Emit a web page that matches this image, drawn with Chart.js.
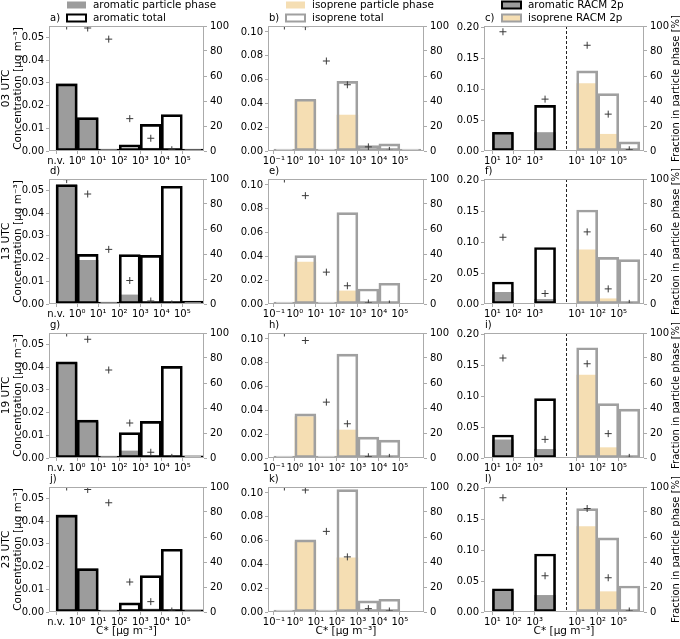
<!DOCTYPE html>
<html>
<head>
<meta charset="utf-8">
<script src="https://cdn.jsdelivr.net/npm/chart.js@4"></script>
<style>
  html, body { margin: 0; padding: 0; background: #fff; overflow: hidden; }
  #fig { position: relative; width: 680px; height: 639px; }
  #fig canvas { position: absolute; }
</style>
</head>
<body>
<div id="fig"></div>
<script>
const hours = ["03 UTC", "13 UTC", "19 UTC", "23 UTC"];
const panelTags = ["a)", "b)", "c)", "d)", "e)", "f)", "g)", "h)", "i)", "j)", "k)", "l)"];

// bin labels sit on the bar edges
const aromBins = ["n.v.", "10⁰", "10¹", "10²", "10³", "10⁴", "10⁵"];
const isoBins = ["10⁻¹", "10⁰", "10¹", "10²", "10³", "10⁴", "10⁵"];
const racmBins = ["10¹", "10²", "10³", "10¹", "10²", "10⁵"];
const racmTickPos = [-0.5, 0.5, 1.5, 3.5, 4.5, 5.5];
const racmAromPos = [0, 2];
const racmIsoPos = [4, 5, 6];

// aromatic volatility bins, one row per hour [µg m-3]
const aromTotal = [
  [0.0295, 0.0147, 0.0005, 0.0027, 0.0117, 0.0160, 0.0008],
  [0.0525, 0.0218, 0.0004, 0.0217, 0.0214, 0.0518, 0.0013],
  [0.0423, 0.0167, 0.0004, 0.0112, 0.0161, 0.0403, 0.0010],
  [0.0426, 0.0191, 0.0004, 0.0040, 0.0160, 0.0276, 0.0009]
];
const aromPart = [
  [0.0295, 0.0145, 0.0004, 0.0007, 0.0012, 0.0001, 0.0006],
  [0.0522, 0.0192, 0.0002, 0.0040, 0.0005, 0.0000, 0.0000],
  [0.0420, 0.0159, 0.0003, 0.0031, 0.0007, 0.0000, 0.0000],
  [0.0426, 0.0190, 0.0003, 0.0010, 0.0013, 0.0002, 0.0008]
];
const aromFrac = [
  [100, 98.4, 89.5, 25.9, 10.2, 1.0],
  [99.5, 88.0, 43.7, 18.8, 2.4, 0.0],
  [100, 95.0, 70.4, 28.0, 4.6, 0.5],
  [100, 98.0, 87.4, 24.0, 8.3, 0.8]
];

// isoprene volatility bins (null: no bar drawn)
const isoTotal = [
  [0.0003, 0.0435, 0.0003, 0.0585, 0.0045, 0.0060, 0.0002],
  [0.0003, 0.0406, 0.0003, 0.0767, 0.0126, 0.0174, null],
  [0.0003, 0.0370, 0.0003, 0.0873, 0.0175, 0.0150, null],
  [0.0003, 0.0606, 0.0003, 0.1028, 0.0093, 0.0107, null]
];
const isoPart = [
  [0.0003, 0.0427, 0.0002, 0.0302, 0.0001, 0.0000, 0.0000],
  [0.0003, 0.0352, 0.0001, 0.0110, 0.0001, 0.0000, 0.0000],
  [0.0003, 0.0347, 0.0001, 0.0235, 0.0002, 0.0000, 0.0000],
  [0.0003, 0.0589, 0.0002, 0.0455, 0.0002, 0.0001, 0.0000]
];
const isoFrac = [
  [100, 99.5, 72.0, 53.0, 3.3, 0.5],
  [100, 86.7, 25.5, 14.6, 0.8, 0.0],
  [100, 94.0, 44.7, 27.4, 1.0, 0.5],
  [100, 97.6, 64.5, 44.1, 2.7, 0.8]
];

// RACM 2p lumped species
const racmAromTotal = [[0.0305, 0.0741], [0.0357, 0.0918], [0.0373, 0.0964], [0.0378, 0.0942]];
const racmAromPart = [[0.0290, 0.0300], [0.0190, 0.0075], [0.0295, 0.0140], [0.0343, 0.0270]];
const racmAromFrac = [[95.4, 41.5], [53.4, 8.4], [80.0, 14.9], [91.4, 29.0]];
const racmIsoTotal = [[0.130, 0.0932, 0.0147], [0.1527, 0.0758, 0.0720], [0.179, 0.0882, 0.0795], [0.168, 0.1205, 0.0422]];
const racmIsoPart = [[0.1095, 0.0272, 0.0002], [0.0880, 0.0085, 0.0003], [0.1345, 0.0168, 0.0003], [0.1388, 0.0330, 0.0003]];
const racmIsoFrac = [[84.6, 29.5, 1.0], [57.7, 12.1, 0.5], [75.4, 19.5, 0.5], [82.8, 27.4, 0.8]];

const concTicks = [
  [0, 0.01, 0.02, 0.03, 0.04, 0.05],
  [0, 0.02, 0.04, 0.06, 0.08, 0.10],
  [0, 0.05, 0.10, 0.15, 0.20]
];
const fracTicks = [0, 20, 40, 60, 80, 100];

const GRAY = "#9c9c9c";
const WHEAT = "#f5deb3";
const ISO_EDGE = "#a0a0a0";
const FRAME = "#ababab";
const FONT = "DejaVu Sans";

Chart.defaults.font.family = FONT;
Chart.defaults.font.size = 10;
Chart.defaults.color = "#000";

const colBox = [
  { left: 0, w: 232, yW: 49, y2W: 28, xMin: -0.84, xMax: 6.53, yMax: 0.055 },
  { left: 232, w: 220, yW: 36, y2W: 28, xMin: -0.78, xMax: 6.65, yMax: 0.105 },
  { left: 452, w: 228, yW: 32, y2W: 36, xMin: -0.9, xMax: 6.7, yMax: 0.203 }
];
const rowTop = [0, 153, 307, 461];
const TOP_PAD = 26, X_H = 28, CANVAS_H = 179;

const legends = [
  [{ text: "aromatic particle phase", fill: GRAY, edge: null },
   { text: "aromatic total", fill: "#fff", edge: "#000" }],
  [{ text: "isoprene particle phase", fill: WHEAT, edge: null },
   { text: "isoprene total", fill: "#fff", edge: ISO_EDGE }],
  [{ text: "aromatic RACM 2p", fill: GRAY, edge: "#000" },
   { text: "isoprene RACM 2p", fill: WHEAT, edge: ISO_EDGE }]
];

const deco = {
  id: "deco",
  afterDraw(chart, args, o) {
    const { ctx, chartArea: a, scales } = chart;
    ctx.save();
    if (o.divider !== undefined) {
      const xp = Math.round(scales.x.getPixelForValue(o.divider)) + 0.5;
      ctx.strokeStyle = "#222";
      ctx.lineWidth = 1;
      ctx.setLineDash([3, 2]);
      ctx.beginPath();
      ctx.moveTo(xp, a.top);
      ctx.lineTo(xp, a.bottom);
      ctx.stroke();
      ctx.setLineDash([]);
    }
    ctx.strokeStyle = FRAME;
    ctx.lineWidth = 1;
    ctx.strokeRect(a.left + 0.5, a.top + 0.5, a.right - a.left - 1, a.bottom - a.top - 1);

    ctx.font = "10px '" + FONT + "'";
    ctx.fillStyle = "#000";
    ctx.textBaseline = "middle";
    ctx.textAlign = "left";
    ctx.fillText(o.tag, a.left + 1, a.top - 8);

    if (o.legend) {
      ctx.font = "10.4px '" + FONT + "'";
      o.legend.forEach((e, i) => {
        const px = a.left + 18, py = a.top - 21 + i * 13;
        ctx.fillStyle = e.fill;
        ctx.fillRect(px, py - 3.5, 19, 7);
        if (e.edge) {
          ctx.strokeStyle = e.edge;
          ctx.lineWidth = 2;
          ctx.strokeRect(px, py - 3.5, 19, 7);
        }
        ctx.fillStyle = "#000";
        ctx.fillText(e.text, px + 26, py);
      });
      ctx.font = "10px '" + FONT + "'";
    }
    if (o.rightTitle) {
      ctx.translate(a.right + 32, (a.top + a.bottom) / 2);
      ctx.rotate(-Math.PI / 2);
      ctx.textAlign = "center";
      ctx.fillText(o.rightTitle, 0, 0);
    }
    ctx.restore();
  }
};

function pts(xs, ys) {
  return ys.map((v, i) => ({ x: xs[i], y: v }));
}

function barSet(xs, ys, fill, edge, order) {
  return {
    type: "bar", data: pts(xs, ys), order: order, grouped: false,
    backgroundColor: fill, borderColor: edge || fill, borderWidth: edge ? 2 : 0,
    minBarLength: edge ? 2 : 0,
    borderSkipped: false, barPercentage: 1, categoryPercentage: 1
  };
}

function fracSet(xs, ys) {
  return {
    type: "scatter", data: pts(xs, ys), order: 0, yAxisID: "y2", clip: 0,
    pointStyle: "cross", pointRadius: 3.5, borderColor: "#3a3a3a", borderWidth: 1,
    backgroundColor: "#3a3a3a"
  };
}

function makePanel(row, col) {
  const g = colBox[col];
  const cv = document.createElement("canvas");
  cv.width = g.w;
  cv.height = CANVAS_H;
  cv.style.left = g.left + "px";
  cv.style.top = rowTop[row] + "px";
  document.getElementById("fig").appendChild(cv);

  const idx = [0, 1, 2, 3, 4, 5, 6];
  let datasets, tickPos, tickLab;
  if (col === 0) {
    datasets = [fracSet(idx, aromFrac[row]),
      barSet(idx, aromTotal[row], "rgba(255,255,255,0)", "#000", 1),
      barSet(idx, aromPart[row], GRAY, null, 2)];
    tickPos = idx.map(i => i - 0.5); tickLab = aromBins;
  } else if (col === 1) {
    datasets = [fracSet(idx, isoFrac[row]),
      barSet(idx, isoTotal[row], "rgba(255,255,255,0)", ISO_EDGE, 1),
      barSet(idx, isoPart[row], WHEAT, null, 2)];
    tickPos = idx.map(i => i - 0.5); tickLab = isoBins;
  } else {
    datasets = [fracSet(racmAromPos, racmAromFrac[row]),
      fracSet(racmIsoPos, racmIsoFrac[row]),
      barSet(racmAromPos, racmAromTotal[row], "rgba(255,255,255,0)", "#000", 1),
      barSet(racmAromPos, racmAromPart[row], GRAY, null, 2),
      barSet(racmIsoPos, racmIsoTotal[row], "rgba(255,255,255,0)", ISO_EDGE, 1),
      barSet(racmIsoPos, racmIsoPart[row], WHEAT, null, 2)];
    tickPos = racmTickPos; tickLab = racmBins;
  }

  const tickGrid = { display: true, drawOnChartArea: false, offset: false, tickLength: 3, color: FRAME };

  new Chart(cv, {
    type: "bar",
    data: { datasets },
    options: {
      responsive: false,
      animation: false,
      events: [],
      layout: { padding: { top: TOP_PAD, left: 0, right: 0, bottom: 0 } },
      plugins: {
        legend: { display: false },
        tooltip: { enabled: false },
        deco: {
          tag: panelTags[row * 3 + col],
          legend: row === 0 ? legends[col] : null,
          divider: col === 2 ? 3 : undefined,
          rightTitle: col === 2 ? "Fraction in particle phase [%]" : null
        }
      },
      scales: {
        x: {
          type: "linear", min: g.xMin, max: g.xMax, offset: false,
          afterFit: s => { s.height = X_H; },
          afterBuildTicks: s => { s.ticks = tickPos.map(v => ({ value: v })); },
          ticks: { autoSkip: false, maxRotation: 0, padding: 1, callback: (v, i) => tickLab[i] },
          grid: tickGrid,
          border: { display: false },
          title: { display: row === 3, text: "C* [µg m⁻³]", padding: { top: 0, bottom: 2 }, font: { size: 10.5 } }
        },
        y: {
          position: "left", min: 0, max: g.yMax,
          afterFit: s => { s.width = g.yW; },
          afterBuildTicks: s => { s.ticks = concTicks[col].map(v => ({ value: v })); },
          ticks: { padding: 2, callback: v => v.toFixed(2) },
          grid: tickGrid,
          border: { display: false },
          title: {
            display: col === 0, text: [hours[row], "Concentration [µg m⁻³]"],
            padding: { top: 0, bottom: 0 }, font: { size: 10.5, lineHeight: 1.15 }
          }
        },
        y2: {
          position: "right", min: 0, max: 100,
          afterFit: s => { s.width = g.y2W; },
          afterBuildTicks: s => { s.ticks = fracTicks.map(v => ({ value: v })); },
          ticks: { padding: 3, callback: v => String(v) },
          grid: tickGrid,
          border: { display: false }
        }
      }
    },
    plugins: [deco]
  });
}

for (let r = 0; r < 4; r++) {
  for (let c = 0; c < 3; c++) makePanel(r, c);
}
</script>
</body>
</html>
